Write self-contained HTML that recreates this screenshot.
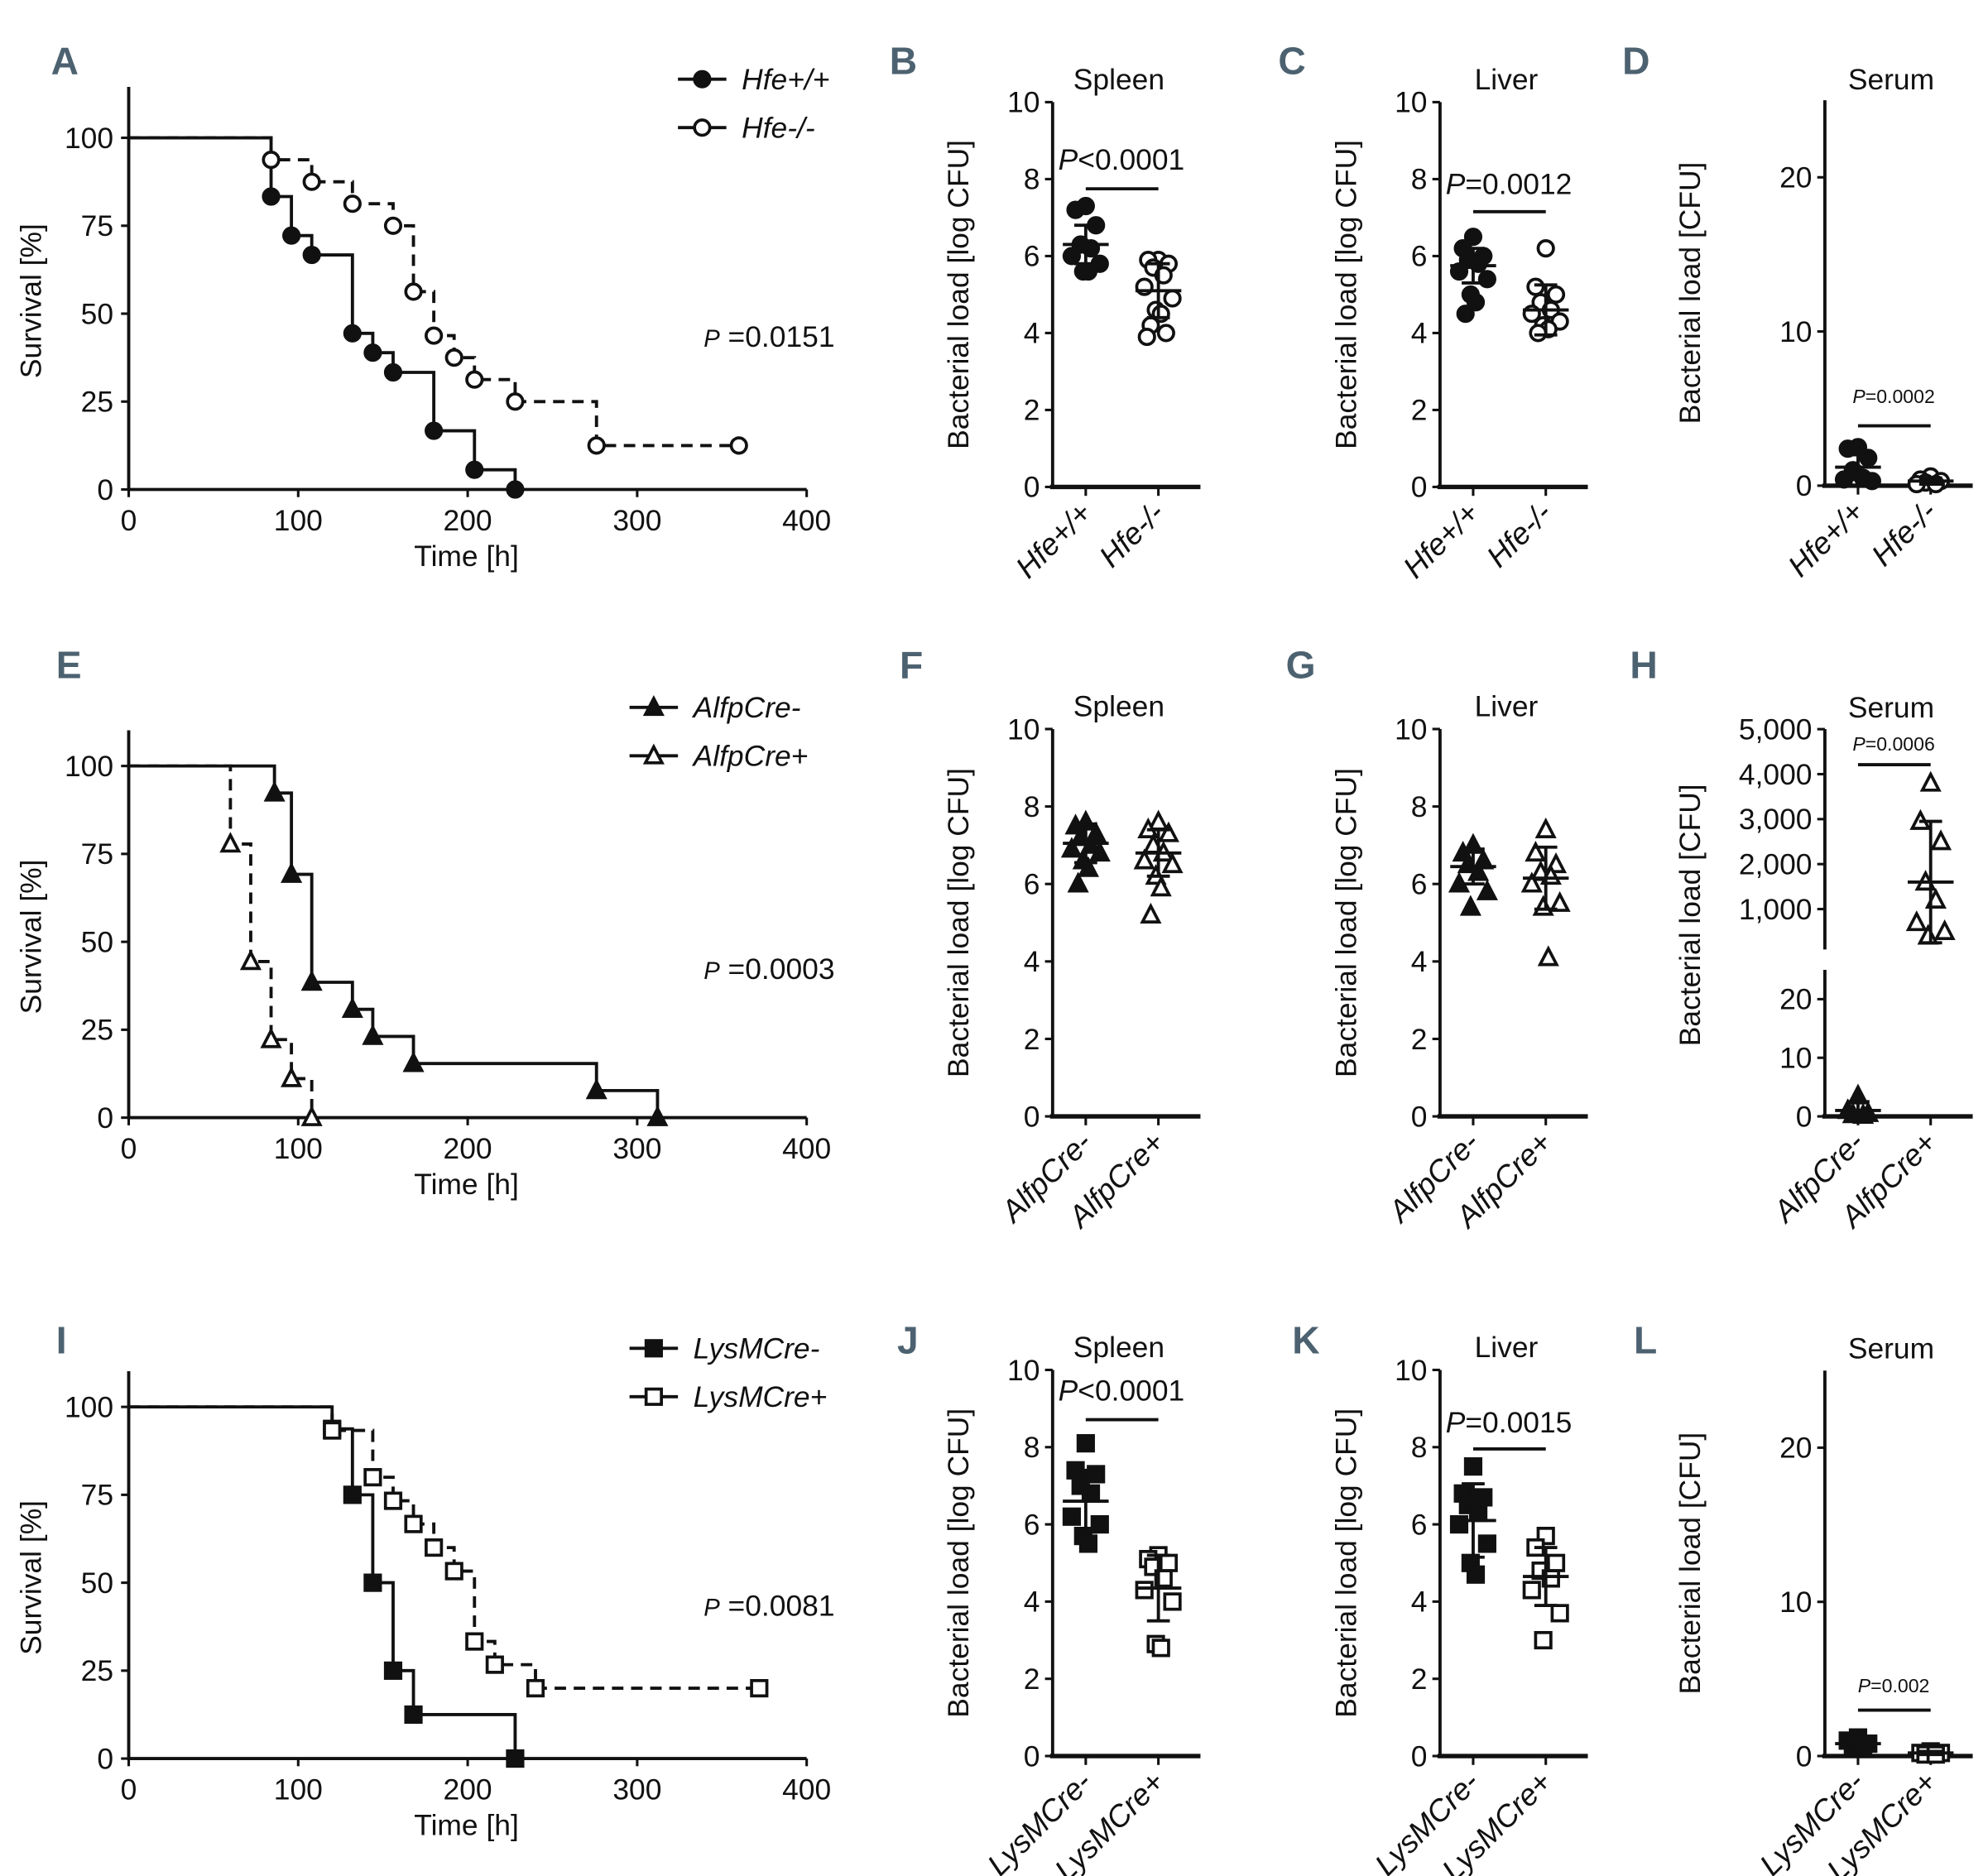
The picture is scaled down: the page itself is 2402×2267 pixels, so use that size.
<!DOCTYPE html>
<html><head><meta charset="utf-8">
<style>
html,body{margin:0;padding:0;background:#fff;}
svg{display:block;}
text{font-family:"Liberation Sans Narrow","Liberation Sans",sans-serif;fill:#111;}
.lt{font-family:"Liberation Sans Narrow","Liberation Sans",sans-serif;font-weight:bold;fill:#4d6270;}
</style></head>
<body>
<svg id="fig" xmlns="http://www.w3.org/2000/svg" width="2402" height="2267" viewBox="0 0 1560 1472"></svg>
<script>
// ---------- Survival data ----------
const kmA_wt_t=[84,96,108,132,144,156,180,204,228];
const kmA_wt_s=[83.3,72.2,66.7,44.4,38.9,33.3,16.7,5.6,0];
const kmA_ko_t=[84,108,132,156,168,180,192,204,228,276];
const kmA_ko_s=[93.75,87.5,81.25,75,56.25,43.75,37.5,31.25,25,12.5];
const kmA_ko_censor=360;
const kmE_neg_t=[86,96,108,132,144,168,276,312];
const kmE_neg_s=[92.3,69.2,38.5,30.8,23.1,15.4,7.7,0];
const kmE_pos_t=[60,72,84,96,108];
const kmE_pos_s=[77.8,44.4,22.2,11.1,0];
const kmI_neg_t=[120,132,144,156,168,228];
const kmI_neg_s=[93.75,75,50,25,12.5,0];
const kmI_pos_t=[120,144,156,168,180,192,204,216,240];
const kmI_pos_s=[93.3,80,73.3,66.7,60,53.3,33.3,26.7,20];
const kmI_pos_censor=372;
const kmXTicks=[0,100,200,300,400];
const kmYTicks=[0,25,50,75,100];
// ---------- Dot plot data ----------
const B_wt=[7.3,7.2,6.8,6.3,6.2,6.0,5.8,5.6,5.6];
const B_ko=[5.9,5.9,5.8,5.7,5.5,5.2,4.9,4.6,4.5,4.2,4.0,3.9];
const B_stats=[[6.3,0.5],[5.1,0.7]];
const C_wt=[6.5,6.2,6.0,5.9,5.8,5.6,5.4,5.0,4.8,4.5];
const C_ko=[6.2,5.2,5.0,4.8,4.6,4.5,4.3,4.2,4.1,4.0];
const C_stats=[[5.75,0.45],[4.6,0.65]];
const D_wt=[2.5,2.4,1.8,1.0,0.5,0.4,0.3];
const D_ko=[0.6,0.4,0.3,0.2,0.1,0.1];
const D_stats=[[1.2,0.8],[0.3,0.2]];
const F_neg=[7.6,7.5,7.3,7.2,7.0,6.9,6.8,6.6,6.4,6.0];
const F_pos=[7.6,7.4,7.3,7.0,6.8,6.6,6.5,6.2,5.9,5.2];
const F_stats=[[7.05,0.5],[6.8,0.6]];
const G_neg=[7.0,6.8,6.6,6.5,6.3,6.0,5.8,5.4];
const G_pos=[7.4,6.8,6.5,6.3,6.2,6.0,5.5,5.4,4.1];
const G_stats=[[6.45,0.45],[6.15,0.8]];
const H_neg=[3.5,1.0,0.5,0.3,0.2];
const H_pos=[3800,2950,2500,1600,1200,700,500,400];
const H_stats=[[1.0,1.5],[1600,1350]];
const J_neg=[8.1,7.4,7.3,7.0,6.8,6.2,6.0,5.7,5.5];
const J_pos=[5.2,5.1,5.0,4.9,4.6,4.3,4.0,2.9,2.8];
const J_stats=[[6.6,0.8],[4.35,0.85]];
const K_neg=[7.5,6.8,6.7,6.5,6.3,6.0,5.5,5.0,4.7];
const K_pos=[5.7,5.4,5.0,4.8,4.6,4.3,3.7,3.0];
const K_stats=[[6.1,0.95],[4.65,0.75]];
const L_neg=[1.2,1.0,0.8,0.7,0.5];
const L_pos=[0.3,0.2,0.2,0.1,0.1];
const L_stats=[[0.8,0.3],[0.2,0.1]];
const logTicks=[0,2,4,6,8,10];
const serumTicks=[0,10,20];

const NS='http://www.w3.org/2000/svg';
const svg=document.getElementById('fig');
function mk(tag,attrs,parent){const e=document.createElementNS(NS,tag);for(const k in attrs)e.setAttribute(k,attrs[k]);(parent||svg).appendChild(e);return e;}
function txt(s,x,y,size,anchor,parent,extra){const t=mk('text',Object.assign({x:x,y:y,'font-size':size,'text-anchor':anchor||'middle'},extra||{}),parent);t.textContent=s;return t;}
function marker(shape,filled,x,y,parent){
  const st={fill:filled?'#111':'#fff',stroke:'#111','stroke-width':2.4};
  let m;
  if(shape==='circle'){m=mk('circle',Object.assign({cx:x,cy:y,r:6},st),parent);}
  else if(shape==='square'){m=mk('rect',Object.assign({x:x-6,y:y-6,width:12,height:12},st),parent);}
  else {m=mk('polygon',Object.assign({points:`${x},${y-7} ${x-6.5},${y+5.5} ${x+6.5},${y+5.5}`},st),parent);}
  
  
  return m;
}
function letter(s,x,y){const t=txt(s,x,y,30,'start');t.setAttribute('class','lt');}

function kmPanel(name,y0,y100,yTop,series,legend,pText){
  const g=mk('g',{});
  
  
  const x0=101,x400=633;
  const X=t=>x0+(x400-x0)*t/400, Y=s=>y0+(y100-y0)*s/100;
  const ax=mk('path',{d:`M${x0},${yTop}V${y0}H${x400}`,fill:'none',stroke:'#111','stroke-width':2.5},g);
  
  
  kmXTicks.forEach(v=>{mk('line',{x1:X(v),x2:X(v),y1:y0,y2:y0+6,stroke:'#111','stroke-width':2},g);
    const t=txt(String(v),X(v),y0+32,23,'middle',g);});
  kmYTicks.forEach(v=>{mk('line',{x1:x0-6,x2:x0,y1:Y(v),y2:Y(v),stroke:'#111','stroke-width':2},g);
    const t=txt(String(v),x0-12,Y(v)+8,23,'end',g);});
  const xt=txt('Time [h]',366,y0+60,23,'middle',g);
  const cy=(yTop+y0)/2+10;
  const yt=txt('Survival [%]',32,cy,23,'middle',g,{transform:`rotate(-90 32 ${cy})`});
  series.forEach(s=>{
    let d=`M${X(0)},${Y(100)}`,prev=100;
    s.t.forEach((t,i)=>{d+=`H${X(t)}V${Y(s.s[i])}`;prev=s.s[i];});
    if(s.censor)d+=`H${X(s.censor)}`;
    const p=mk('path',{d:d,fill:'none',stroke:'#111','stroke-width':2.5,'stroke-dasharray':s.dash?'9 6':'none'},g);
    
    
    s.t.forEach((t,i)=>marker(s.shape,s.filled,X(t),Y(s.s[i]),g));
    if(s.censor)marker(s.shape,s.filled,X(s.censor),Y(prev),g);
  });
  legend.forEach((l,i)=>{
    const ly=legend.ly+i*38;
    const lg=mk('g',{},g);
    
    
    mk('line',{x1:legend.lx,x2:legend.lx+38,y1:ly,y2:ly,stroke:'#111','stroke-width':2.5},lg);
    marker(l.shape,l.filled,legend.lx+19,ly,lg);
    txt(l.label,legend.lx+50,ly+8,23,'start',lg,{'font-style':'italic'});
  });
  const pt=mk('text',{x:655,y:pText,'font-size':23,'text-anchor':'end'},g);
  
  
  pt.innerHTML='<tspan font-style="italic" font-size="19">P</tspan> =' + (name==='panel-a'?'0.0151':name==='panel-e'?'0.0003':'0.0081');
}

kmPanel('panel-a',384,108,68,[
  {t:kmA_wt_t,s:kmA_wt_s,shape:'circle',filled:true,dash:false},
  {t:kmA_ko_t,s:kmA_ko_s,shape:'circle',filled:false,dash:true,censor:kmA_ko_censor}],
  Object.assign([{shape:'circle',filled:true,label:'Hfe+/+'},{shape:'circle',filled:false,label:'Hfe-/-'}],{lx:532,ly:62}),272);
kmPanel('panel-e',877,601,573,[
  {t:kmE_neg_t,s:kmE_neg_s,shape:'tri',filled:true,dash:false},
  {t:kmE_pos_t,s:kmE_pos_s,shape:'tri',filled:false,dash:true}],
  Object.assign([{shape:'tri',filled:true,label:'AlfpCre-'},{shape:'tri',filled:false,label:'AlfpCre+'}],{lx:494,ly:555}),768);
kmPanel('panel-i',1380,1104,1076,[
  {t:kmI_neg_t,s:kmI_neg_s,shape:'square',filled:true,dash:false},
  {t:kmI_pos_t,s:kmI_pos_s,shape:'square',filled:false,dash:true,censor:kmI_pos_censor}],
  Object.assign([{shape:'square',filled:true,label:'LysMCre-'},{shape:'square',filled:false,label:'LysMCre+'}],{lx:494,ly:1058}),1268);

// dot plot
function dotPanel(o){
  const g=mk('g',{});
  
  
  const ax=o.ax, g1=ax+26, g2=ax+83;
  const Y=o.Y;
  o.axisSegs.forEach(seg=>{const l=mk('line',{x1:ax,x2:ax,y1:seg[0],y2:seg[1],stroke:'#111','stroke-width':2.5},g);
    });
  const xl=mk('line',{x1:ax-2,x2:ax+116,y1:o.y0,y2:o.y0,stroke:'#111','stroke-width':3.5},g);
  
  o.ticks.forEach(tk=>{mk('line',{x1:ax-6,x2:ax,y1:tk.y,y2:tk.y,stroke:'#111','stroke-width':2},g);
    const t=txt(tk.l,ax-10,tk.y+8,23,'end',g);});
  [g1,g2].forEach((gx,i)=>{mk('line',{x1:gx,x2:gx,y1:o.y0,y2:o.y0+7,stroke:'#111','stroke-width':2},g);
    const t=txt(o.cats[i],gx+6,o.y0+22,24,'end',g,{'font-style':'italic',transform:`rotate(-45 ${gx+6} ${o.y0+22})`});
    });
  const tt=txt(o.title,ax+52,o.titleY,23,'middle',g);
  const ly=o.labelY, lx=ax-o.lOff;
  const yl=txt(o.ylabel,lx,ly,23,'middle',g,{transform:`rotate(-90 ${lx} ${ly})`});
  const jit=[0,-8,8,-4,4,-11,11,-2,2,-6,6,-9];
  [o.d1,o.d2].forEach((arr,gi)=>{const gx=gi?g2:g1;
    arr.forEach((v,i)=>marker(o.shape,gi===0,gx+jit[i%jit.length],Y(v),g));
    const m=o.stats[gi][0],sd=o.stats[gi][1];
    const e=mk('path',{d:`M${gx-18},${Y(m)}H${gx+18}M${gx},${Y(m+sd)}V${Y(Math.max(m-sd,o.minV))}M${gx-9},${Y(m+sd)}H${gx+9}M${gx-9},${Y(Math.max(m-sd,o.minV))}H${gx+9}`,stroke:'#111','stroke-width':2.5,fill:'none'},g);
    
  });
  if(o.p){
    const pt=mk('text',{x:ax+54,y:o.p.y,'font-size':o.p.size,'text-anchor':'middle'},g);
    
    pt.innerHTML='<tspan font-style="italic">P</tspan>'+o.p.t;
    const pl=mk('line',{x1:g1,x2:g2,y1:o.p.ly,y2:o.p.ly,stroke:'#111','stroke-width':2.5},g);
    
  }
}
function logPanel(name,ax,top,y0,title,cats,shape,d1,d2,stats,p){
  const y10=top+8;
  const Y=v=>y0+(y10-y0)*v/10;
  dotPanel({name,ax,y0,Y,axisSegs:[[y10,y0]],ticks:logTicks.map(v=>({y:Y(v),l:String(v)})),cats,title,titleY:y10-10,
    ylabel:'Bacterial load [log CFU]',labelY:(y10+y0)/2,lOff:66,shape,d1,d2,stats,minV:0,p});
}
function serumPanel(name,ax,y0,titleY,cats,shape,d1,d2,stats,p){
  const y20=y0-242;
  const Y=v=>y0+(y20-y0)*v/20;
  dotPanel({name,ax,y0,Y,axisSegs:[[Y(25),y0]],ticks:serumTicks.map(v=>({y:Y(v),l:String(v)})),cats,title:'Serum',titleY,
    ylabel:'Bacterial load [CFU]',labelY:(Y(25)+y0)/2,lOff:98,shape,d1,d2,stats,minV:0,p});
}
logPanel('panel-b',826,72,382,'Spleen',['Hfe+/+','Hfe-/-'],'circle',B_wt,B_ko,B_stats,{y:133,size:23,t:'<0.0001',ly:148});
logPanel('panel-c',1130,72,382,'Liver',['Hfe+/+','Hfe-/-'],'circle',C_wt,C_ko,C_stats,{y:152,size:23,t:'=0.0012',ly:166});
serumPanel('panel-d',1432,381,70,['Hfe+/+','Hfe-/-'],'circle',D_wt,D_ko,D_stats,{y:316,size:15,t:'=0.0002',ly:334});
logPanel('panel-f',826,564,876,'Spleen',['AlfpCre-','AlfpCre+'],'tri',F_neg,F_pos,F_stats,null);
logPanel('panel-g',1130,564,876,'Liver',['AlfpCre-','AlfpCre+'],'tri',G_neg,G_pos,G_stats,null);
(function(){
  const ax=1432,y0=876,y20=784;
  const Ylow=v=>y0+(y20-y0)*v/20;
  const Yhi=v=>748.6-35.3*v/1000;
  const Y=v=>v>25?Yhi(v):Ylow(v);
  const hiTicks=[1000,2000,3000,4000,5000];
  dotPanel({name:'panel-h',ax,y0,Y,axisSegs:[[Ylow(25),y0],[572,745]],
    ticks:serumTicks.map(v=>({y:Ylow(v),l:String(v)})).concat(hiTicks.map(v=>({y:Yhi(v),l:v.toLocaleString('en-US')}))),
    cats:['AlfpCre-','AlfpCre+'],title:'Serum',titleY:563,ylabel:'Bacterial load [CFU]',labelY:718,lOff:98,shape:'tri',
    d1:H_neg,d2:H_pos,stats:H_stats,minV:0,p:{y:589,size:15,t:'=0.0006',ly:600}});
})();
logPanel('panel-j',826,1067,1378,'Spleen',['LysMCre-','LysMCre+'],'square',J_neg,J_pos,J_stats,{y:1099,size:23,t:'<0.0001',ly:1114});
logPanel('panel-k',1130,1067,1378,'Liver',['LysMCre-','LysMCre+'],'square',K_neg,K_pos,K_stats,{y:1124,size:23,t:'=0.0015',ly:1137});
serumPanel('panel-l',1432,1378,1066,['LysMCre-','LysMCre+'],'square',L_neg,L_pos,L_stats,{y:1328,size:15,t:'=0.002',ly:1342});

letter('A',40,58);letter('B',698,58);letter('C',1003,58);letter('D',1273,58);
letter('E',44,532);letter('F',706,532);letter('G',1009,532);letter('H',1279,532);
letter('I',44,1062);letter('J',704,1062);letter('K',1014,1062);letter('L',1282,1062);
</script>
</body></html>
